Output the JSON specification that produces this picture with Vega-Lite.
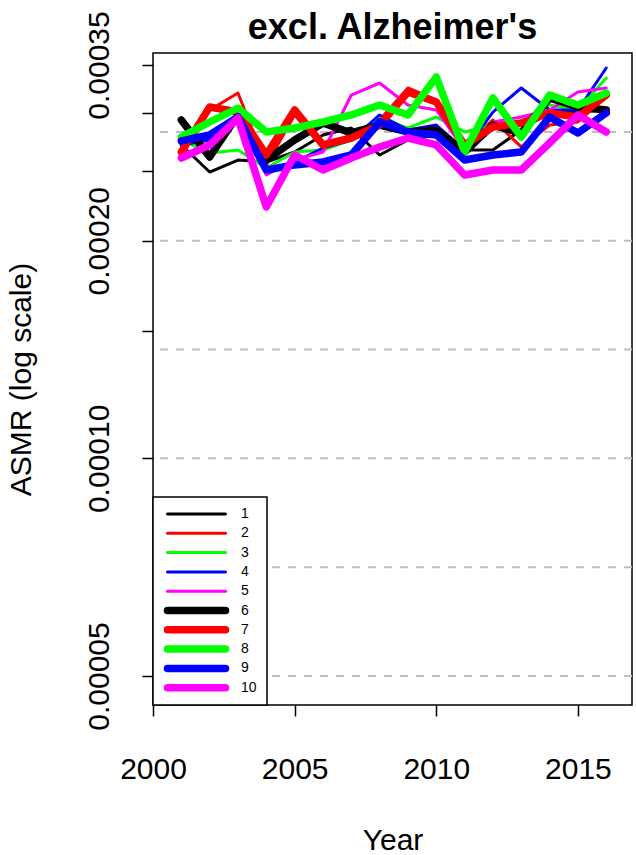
{
  "$schema": "https://vega.github.io/schema/vega-lite/v6.json",
  "width": 479,
  "height": 652,
  "autosize": {"type": "none"},
  "padding": {"left": 153, "top": 53, "right": 4, "bottom": 150},
  "background": "white",
  "config": {
    "font": "Liberation Sans",
    "view": {"stroke": "black", "strokeWidth": 1.5},
    "axis": {"labelFont": "Liberation Sans", "titleFont": "Liberation Sans", "labelColor": "black", "titleColor": "black", "tickColor": "black", "domainColor": "black"}
  },
  "title": {"text": "excl. Alzheimer's", "anchor": "middle", "frame": "group", "baseline": "alphabetic", "offset": 13, "dy": 77, "fontSize": 36, "fontWeight": "bold", "font": "Liberation Sans", "color": "black"},
  "layer": [
    {
      "data": {"values": [{"g": 0.00005}, {"g": 0.000070711}, {"g": 0.0001}, {"g": 0.000141421}, {"g": 0.0002}, {"g": 0.000282843}]},
      "mark": {"type": "rule", "color": "#BEBEBE", "strokeWidth": 2, "strokeDash": [8, 8]},
      "encoding": {
        "y": {"field": "g", "type": "quantitative", "scale": {"type": "log", "domain": [0.000045588, 0.00036364], "nice": false, "zero": false},
          "axis": {"values": [0.00005, 0.0001, 0.00015, 0.0002, 0.00025, 0.0003, 0.00035], "labelExpr": "(datum.value > 0.000345 || (datum.value > 0.000195 && datum.value < 0.000205) || (datum.value > 0.000095 && datum.value < 0.000105) || datum.value < 0.000055) ? format(datum.value, '.5f') : ''", "title": "ASMR (log scale)", "grid": false, "domain": false, "tickSize": 11, "tickWidth": 1.5, "labelFontSize": 30, "labelAngle": -90, "labelAlign": "center", "labelBaseline": "alphabetic", "labelPadding": 34, "labelFlush": false, "labelOverlap": false, "titleFontSize": 30, "titleFontWeight": "normal", "titleBaseline": "alphabetic", "titleAngle": -90, "titleX": -123, "titleY": 326}}
      }
    },
    {
      "data": {"values": [
        {"year": 2001, "s": 1, "v": 0.0002713}, {"year": 2002, "s": 1, "v": 0.0002489}, {"year": 2003, "s": 1, "v": 0.0002586}, {"year": 2004, "s": 1, "v": 0.0002570}, {"year": 2005, "s": 1, "v": 0.0002653}, {"year": 2006, "s": 1, "v": 0.0002801}, {"year": 2007, "s": 1, "v": 0.0002864}, {"year": 2008, "s": 1, "v": 0.0002628}, {"year": 2009, "s": 1, "v": 0.0002756}, {"year": 2010, "s": 1, "v": 0.0002801}, {"year": 2011, "s": 1, "v": 0.0002670}, {"year": 2012, "s": 1, "v": 0.0002670}, {"year": 2013, "s": 1, "v": 0.0002846}, {"year": 2014, "s": 1, "v": 0.0003013}, {"year": 2015, "s": 1, "v": 0.0003013}, {"year": 2016, "s": 1, "v": 0.0003033},
        {"year": 2001, "s": 2, "v": 0.0002670}, {"year": 2002, "s": 2, "v": 0.0003033}, {"year": 2003, "s": 2, "v": 0.0003201}, {"year": 2004, "s": 2, "v": 0.0002546}, {"year": 2005, "s": 2, "v": 0.0002985}, {"year": 2006, "s": 2, "v": 0.0002687}, {"year": 2007, "s": 2, "v": 0.0002801}, {"year": 2008, "s": 2, "v": 0.0002938}, {"year": 2009, "s": 2, "v": 0.0003253}, {"year": 2010, "s": 2, "v": 0.0003131}, {"year": 2011, "s": 2, "v": 0.0002713}, {"year": 2012, "s": 2, "v": 0.0002938}, {"year": 2013, "s": 2, "v": 0.0002696}, {"year": 2014, "s": 2, "v": 0.0002891}, {"year": 2015, "s": 2, "v": 0.0002919}, {"year": 2016, "s": 2, "v": 0.0003161},
        {"year": 2001, "s": 3, "v": 0.0002756}, {"year": 2002, "s": 3, "v": 0.0002645}, {"year": 2003, "s": 3, "v": 0.0002670}, {"year": 2004, "s": 3, "v": 0.0002521}, {"year": 2005, "s": 3, "v": 0.0002653}, {"year": 2006, "s": 3, "v": 0.0002670}, {"year": 2007, "s": 3, "v": 0.0002756}, {"year": 2008, "s": 3, "v": 0.0002956}, {"year": 2009, "s": 3, "v": 0.0002864}, {"year": 2010, "s": 3, "v": 0.0002966}, {"year": 2011, "s": 3, "v": 0.0002828}, {"year": 2012, "s": 3, "v": 0.0002891}, {"year": 2013, "s": 3, "v": 0.0002891}, {"year": 2014, "s": 3, "v": 0.0003081}, {"year": 2015, "s": 3, "v": 0.0003033}, {"year": 2016, "s": 3, "v": 0.0003358},
        {"year": 2001, "s": 4, "v": 0.0002713}, {"year": 2002, "s": 4, "v": 0.0002756}, {"year": 2003, "s": 4, "v": 0.0002956}, {"year": 2004, "s": 4, "v": 0.0002505}, {"year": 2005, "s": 4, "v": 0.0002570}, {"year": 2006, "s": 4, "v": 0.0002687}, {"year": 2007, "s": 4, "v": 0.0002756}, {"year": 2008, "s": 4, "v": 0.0002985}, {"year": 2009, "s": 4, "v": 0.0002846}, {"year": 2010, "s": 4, "v": 0.0002891}, {"year": 2011, "s": 4, "v": 0.0002670}, {"year": 2012, "s": 4, "v": 0.0003013}, {"year": 2013, "s": 4, "v": 0.0003253}, {"year": 2014, "s": 4, "v": 0.0003033}, {"year": 2015, "s": 4, "v": 0.0003033}, {"year": 2016, "s": 4, "v": 0.0003467},
        {"year": 2001, "s": 5, "v": 0.0002628}, {"year": 2002, "s": 5, "v": 0.0002713}, {"year": 2003, "s": 5, "v": 0.0002956}, {"year": 2004, "s": 5, "v": 0.0002466}, {"year": 2005, "s": 5, "v": 0.0002586}, {"year": 2006, "s": 5, "v": 0.0002653}, {"year": 2007, "s": 5, "v": 0.0003181}, {"year": 2008, "s": 5, "v": 0.0003305}, {"year": 2009, "s": 5, "v": 0.0003081}, {"year": 2010, "s": 5, "v": 0.0003033}, {"year": 2011, "s": 5, "v": 0.0002670}, {"year": 2012, "s": 5, "v": 0.0002919}, {"year": 2013, "s": 5, "v": 0.0002966}, {"year": 2014, "s": 5, "v": 0.0003033}, {"year": 2015, "s": 5, "v": 0.0003212}, {"year": 2016, "s": 5, "v": 0.0003253},
        {"year": 2001, "s": 6, "v": 0.0002938}, {"year": 2002, "s": 6, "v": 0.0002611}, {"year": 2003, "s": 6, "v": 0.0002985}, {"year": 2004, "s": 6, "v": 0.0002586}, {"year": 2005, "s": 6, "v": 0.0002756}, {"year": 2006, "s": 6, "v": 0.0002910}, {"year": 2007, "s": 6, "v": 0.0002819}, {"year": 2008, "s": 6, "v": 0.0002891}, {"year": 2009, "s": 6, "v": 0.0002828}, {"year": 2010, "s": 6, "v": 0.0002846}, {"year": 2011, "s": 6, "v": 0.0002653}, {"year": 2012, "s": 6, "v": 0.0002891}, {"year": 2013, "s": 6, "v": 0.0002819}, {"year": 2014, "s": 6, "v": 0.0003151}, {"year": 2015, "s": 6, "v": 0.0003062}, {"year": 2016, "s": 6, "v": 0.0003033},
        {"year": 2001, "s": 7, "v": 0.0002653}, {"year": 2002, "s": 7, "v": 0.0003062}, {"year": 2003, "s": 7, "v": 0.0003013}, {"year": 2004, "s": 7, "v": 0.0002628}, {"year": 2005, "s": 7, "v": 0.0003033}, {"year": 2006, "s": 7, "v": 0.0002713}, {"year": 2007, "s": 7, "v": 0.0002774}, {"year": 2008, "s": 7, "v": 0.0002891}, {"year": 2009, "s": 7, "v": 0.0003212}, {"year": 2010, "s": 7, "v": 0.0003111}, {"year": 2011, "s": 7, "v": 0.0002713}, {"year": 2012, "s": 7, "v": 0.0002873}, {"year": 2013, "s": 7, "v": 0.0002910}, {"year": 2014, "s": 7, "v": 0.0003004}, {"year": 2015, "s": 7, "v": 0.0002966}, {"year": 2016, "s": 7, "v": 0.0003181},
        {"year": 2001, "s": 8, "v": 0.0002783}, {"year": 2002, "s": 8, "v": 0.0002919}, {"year": 2003, "s": 8, "v": 0.0003052}, {"year": 2004, "s": 8, "v": 0.0002828}, {"year": 2005, "s": 8, "v": 0.0002864}, {"year": 2006, "s": 8, "v": 0.0002919}, {"year": 2007, "s": 8, "v": 0.0002985}, {"year": 2008, "s": 8, "v": 0.0003081}, {"year": 2009, "s": 8, "v": 0.0002985}, {"year": 2010, "s": 8, "v": 0.0003369}, {"year": 2011, "s": 8, "v": 0.0002653}, {"year": 2012, "s": 8, "v": 0.0003151}, {"year": 2013, "s": 8, "v": 0.0002783}, {"year": 2014, "s": 8, "v": 0.0003181}, {"year": 2015, "s": 8, "v": 0.0003081}, {"year": 2016, "s": 8, "v": 0.0003201},
        {"year": 2001, "s": 9, "v": 0.0002748}, {"year": 2002, "s": 9, "v": 0.0002801}, {"year": 2003, "s": 9, "v": 0.0002966}, {"year": 2004, "s": 9, "v": 0.0002505}, {"year": 2005, "s": 9, "v": 0.0002546}, {"year": 2006, "s": 9, "v": 0.0002570}, {"year": 2007, "s": 9, "v": 0.0002628}, {"year": 2008, "s": 9, "v": 0.0002919}, {"year": 2009, "s": 9, "v": 0.0002828}, {"year": 2010, "s": 9, "v": 0.0002801}, {"year": 2011, "s": 9, "v": 0.0002586}, {"year": 2012, "s": 9, "v": 0.0002628}, {"year": 2013, "s": 9, "v": 0.0002653}, {"year": 2014, "s": 9, "v": 0.0002966}, {"year": 2015, "s": 9, "v": 0.0002819}, {"year": 2016, "s": 9, "v": 0.0003004},
        {"year": 2001, "s": 10, "v": 0.0002603}, {"year": 2002, "s": 10, "v": 0.0002713}, {"year": 2003, "s": 10, "v": 0.0002956}, {"year": 2004, "s": 10, "v": 0.0002227}, {"year": 2005, "s": 10, "v": 0.0002628}, {"year": 2006, "s": 10, "v": 0.0002505}, {"year": 2007, "s": 10, "v": 0.0002603}, {"year": 2008, "s": 10, "v": 0.0002696}, {"year": 2009, "s": 10, "v": 0.0002774}, {"year": 2010, "s": 10, "v": 0.0002713}, {"year": 2011, "s": 10, "v": 0.0002466}, {"year": 2012, "s": 10, "v": 0.0002505}, {"year": 2013, "s": 10, "v": 0.0002505}, {"year": 2014, "s": 10, "v": 0.0002730}, {"year": 2015, "s": 10, "v": 0.0002985}, {"year": 2016, "s": 10, "v": 0.0002828}
      ]},
      "mark": {"type": "line", "strokeCap": "round", "strokeJoin": "round"},
      "encoding": {
        "x": {"field": "year", "type": "quantitative", "scale": {"domain": [2000, 2016.91], "nice": false, "zero": false},
          "axis": {"values": [2000, 2005, 2010, 2015], "format": "d", "title": "Year", "grid": false, "domain": false, "tickSize": 11, "tickWidth": 1.5, "labelFontSize": 30, "labelBaseline": "alphabetic", "labelPadding": 62, "labelFlush": false, "titleFontSize": 30, "titleFontWeight": "normal", "titleBaseline": "alphabetic", "titleY": 144, "titleX": 239.5}},
        "y": {"field": "v", "type": "quantitative", "scale": {"type": "log", "domain": [0.000045588, 0.00036364], "nice": false, "zero": false},
          "axis": {"values": [0.00005, 0.0001, 0.00015, 0.0002, 0.00025, 0.0003, 0.00035], "labelExpr": "(datum.value > 0.000345 || (datum.value > 0.000195 && datum.value < 0.000205) || (datum.value > 0.000095 && datum.value < 0.000105) || datum.value < 0.000055) ? format(datum.value, '.5f') : ''", "title": "ASMR (log scale)", "grid": false, "domain": false, "tickSize": 11, "tickWidth": 1.5, "labelFontSize": 30, "labelAngle": -90, "labelAlign": "center", "labelBaseline": "alphabetic", "labelPadding": 34, "labelFlush": false, "labelOverlap": false, "titleFontSize": 30, "titleFontWeight": "normal", "titleBaseline": "alphabetic", "titleAngle": -90, "titleX": -123, "titleY": 326}},
        "color": {"field": "s", "type": "nominal", "scale": {"domain": [1, 2, 3, 4, 5, 6, 7, 8, 9, 10], "range": ["#000000", "#FF0000", "#00FF00", "#0000FF", "#FF00FF", "#000000", "#FF0000", "#00FF00", "#0000FF", "#FF00FF"]},
          "legend": {"orient": "bottom-left", "offset": 0, "title": null, "strokeColor": "black", "fillColor": "white", "padding": 10, "symbolType": "M-14.5,0H14.5", "symbolSize": 16, "labelFontSize": 14, "labelFont": "Liberation Sans", "labelColor": "black", "labelOffset": 37.5, "symbolOffset": 26.5, "rowPadding": 5.3, "labelLimit": 0,
            "encode": {"legend": {"update": {"strokeWidth": {"value": 1.5}}}, "symbols": {"update": {"strokeCap": {"value": "round"}, "strokeJoin": {"value": "round"}, "fill": {"value": "transparent"}}}}}},
        "strokeWidth": {"field": "s", "type": "nominal", "scale": {"type": "ordinal", "domain": [1, 2, 3, 4, 5, 6, 7, 8, 9, 10], "range": [3, 3, 3, 3, 3, 7.5, 7.5, 7.5, 7.5, 7.5]}}
      }
    }
  ]
}
